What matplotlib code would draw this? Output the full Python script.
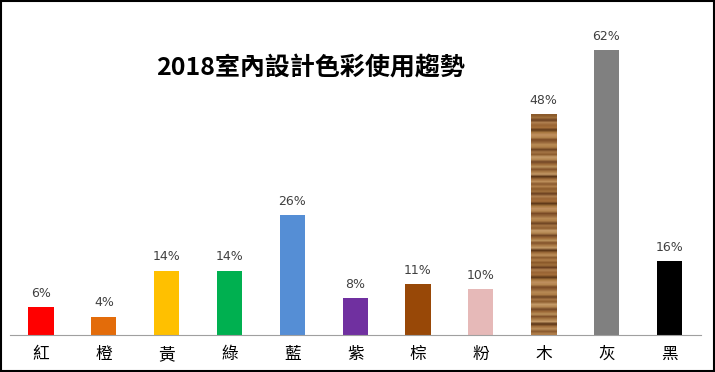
import matplotlib.pyplot as plt
import numpy as np
from matplotlib.patches import Rectangle
from matplotlib.colors import ListedColormap

plt.rcParams['font.family'] = ['Noto Sans CJK TC', 'DejaVu Sans']

# data
categories = ['紅', '橙', '黃', '綠', '藍', '紫', '棕', '粉', '木', '灰', '黑']
values = [6, 4, 14, 14, 26, 8, 11, 10, 48, 62, 16]
colors = ['#FF0000', '#E36C0A', '#FFC000', '#00B050', '#558ED5', '#7030A0',
          '#984807', '#E6B9B8', '#9C6B3C', '#808080', '#000000']
title = '2018室內設計色彩使用趨勢'

# wood grain shades (top to bottom)
wood_shades = ['#8B5A2B', '#A0703C', '#6B4020', '#B08050', '#9A6535', '#A46E3A',
               '#5E3818', '#A87840', '#C09060', '#B58650', '#7A4A25', '#96663A',
               '#B88A55', '#AE7E48', '#6E4422', '#A57545', '#8E5E30', '#C49A68',
               '#B48752', '#734726', '#9D6A38', '#B9905A', '#82522A', '#A97A46',
               '#C29866', '#5A3416', '#A06E3C', '#BC8E5A', '#8A5A2E', '#B07E4A']

fig = plt.figure(figsize=(7.15, 3.72), dpi=100)
ax = fig.add_axes([0.0134, 0.0995, 0.9666, 0.865])

x = np.arange(len(categories))
bars = ax.bar(x, values, width=0.4, color=colors, zorder=2)

# wood texture on the 木 bar
wood_bar = bars[categories.index('木')]
cmap = ListedColormap(wood_shades)
stripes = np.tile(np.arange(len(wood_shades)), 3)[:, None]
im = ax.imshow(stripes, cmap=cmap, aspect='auto', interpolation='bilinear',
               extent=(wood_bar.get_x(), wood_bar.get_x() + wood_bar.get_width(),
                       0, wood_bar.get_height()), zorder=3)
im.set_clip_path(wood_bar)

for xi, v in zip(x, values):
    ax.text(xi, v + 1.6, f'{v}%', ha='center', va='bottom', fontsize=9,
            color='#404040', family=['DejaVu Sans'])

ax.set_xlim(-0.5, len(categories) - 0.5)
ax.set_ylim(0, 70)
ax.set_yticks([])
ax.set_xticks(x)
ax.set_xticklabels(categories, fontsize=12)
ax.tick_params(axis='x', length=0, pad=8)
for s in ['top', 'right', 'left']:
    ax.spines[s].set_visible(False)
ax.spines['bottom'].set_color('#A0A0A0')
ax.set_facecolor('none')

fig.text(0.434, 0.815, title, ha='center', va='center', fontsize=18,
         fontweight='bold', color='black')

# outer border
fig.patches.append(Rectangle((0.001, 0.002), 0.997, 0.995, transform=fig.transFigure,
                             fill=False, edgecolor='black', linewidth=1.5))

fig.savefig('out.png', dpi=100)
